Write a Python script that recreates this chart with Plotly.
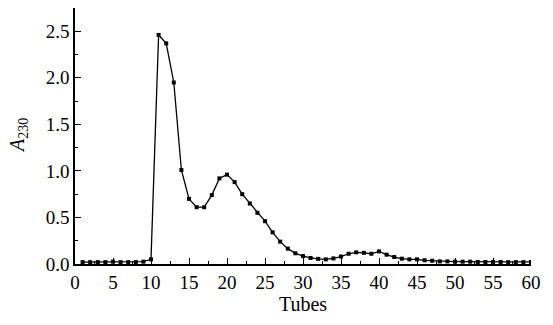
import plotly.graph_objects as go

tubes = list(range(1, 61))
a230 = [0.02, 0.02, 0.02, 0.02, 0.025, 0.02, 0.02, 0.02, 0.025, 0.05,
        2.46, 2.37, 1.95, 1.01, 0.70, 0.61, 0.61, 0.74, 0.92, 0.96,
        0.88, 0.75, 0.65, 0.55, 0.46, 0.34, 0.24, 0.165, 0.115, 0.085,
        0.065, 0.055, 0.05, 0.06, 0.08, 0.11, 0.125, 0.12, 0.11, 0.135,
        0.10, 0.075, 0.057, 0.05, 0.05, 0.04, 0.035, 0.028, 0.028, 0.025,
        0.025, 0.025, 0.022, 0.022, 0.022, 0.022, 0.02, 0.02, 0.02, 0.022]

x_ticks = [0, 5, 10, 15, 20, 25, 30, 35, 40, 45, 50, 55, 60]
y_ticks = [0.0, 0.5, 1.0, 1.5, 2.0, 2.5]
y_tick_labels = ["0.0", "0.5", "1.0", "1.5", "2.0", "2.5"]

serif = "Liberation Serif"
tick_font = dict(family=serif, size=19, color="black")

fig = go.Figure()
fig.add_trace(go.Scatter(
    x=tubes, y=a230, mode="lines+markers",
    line=dict(color="black", width=1.3),
    marker=dict(symbol="square", size=4, color="black"),
    showlegend=False,
))

fig.update_layout(
    width=553, height=325,
    margin=dict(l=75, r=22, t=8, b=61),
    paper_bgcolor="white", plot_bgcolor="white",
    font=dict(family=serif, size=19, color="black"),
    xaxis=dict(
        range=[0, 60], tickvals=x_ticks, ticktext=[str(v) for v in x_ticks],
        tickfont=tick_font,
        ticks="inside", ticklen=6, tickwidth=1.2, tickcolor="black",
        minor=dict(dtick=2.5, ticks="inside", ticklen=3, tickwidth=1, tickcolor="black"),
        showline=True, linecolor="black", linewidth=1.5, mirror=False,
        showgrid=False, zeroline=False,
        title=dict(text="Tubes", font=dict(family=serif, size=20, color="black"), standoff=5),
    ),
    yaxis=dict(
        range=[0, 2.75], tickvals=y_ticks, ticktext=y_tick_labels,
        tickfont=tick_font,
        ticks="inside", ticklen=6, tickwidth=1.2, tickcolor="black",
        minor=dict(dtick=0.25, ticks="inside", ticklen=3, tickwidth=1, tickcolor="black"),
        showline=True, linecolor="black", linewidth=1.5, mirror=False,
        showgrid=False, zeroline=False,
    ),
    annotations=[dict(
        text="<i>A</i><sub>230</sub>", xref="paper", yref="paper",
        x=0, y=0.5, xshift=-57, xanchor="center", yanchor="middle",
        textangle=-90, showarrow=False, font=dict(family=serif, size=20, color="black"),
    )],
)

fig.write_html("out.html")
